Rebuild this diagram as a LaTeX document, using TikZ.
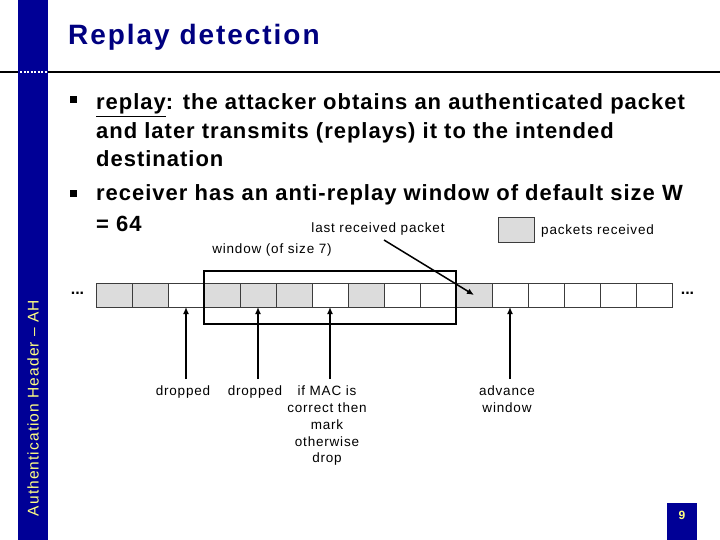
\documentclass[tikz,border=0pt]{standalone}
\usepackage{fontspec}
\setmainfont{Liberation Sans}
\usetikzlibrary{arrows.meta}
\definecolor{barblue}{RGB}{0,0,150}
\definecolor{titleblue}{RGB}{0,0,128}
\definecolor{paleyellow}{RGB}{255,255,130}
\definecolor{cellgray}{RGB}{220,220,220}
\definecolor{cellline}{RGB}{60,60,60}
\newcommand{\smallfnt}{\fontsize{13.5}{16.7}\selectfont\addfontfeatures{LetterSpace=6}}
\begin{document}
\begin{tikzpicture}[x=1pt,y=-1pt,
  cell/.style={draw=cellline, line width=0.8pt, minimum width=36pt, minimum height=24pt, inner sep=0pt, outer sep=0pt, anchor=north west},
  bul/.style={fill=black, minimum size=7pt, inner sep=0pt},
  btext/.style={anchor=base west, inner sep=0pt, font=\fontsize{22}{26}\selectfont\bfseries\addfontfeatures{LetterSpace=4.5}},
  lbl/.style={anchor=north, inner sep=0pt, align=center, font=\smallfnt},
  arr/.style={line width=1.6pt, -{Latex[length=7pt,width=6pt]}},
  winbox/.style={draw=black, line width=1.6pt, minimum width=252pt, minimum height=53pt, inner sep=0pt, outer sep=0pt, anchor=north west}]
\useasboundingbox (0,0) rectangle (720,540);
\fill[white] (0,0) rectangle (720,540);
% left bar
\fill[barblue] (18,0) rectangle (48,540);
\draw[line width=1.5pt] (0,72) -- (18,72);
\draw[line width=1.5pt] (48,72) -- (720,72);
\draw[white, line width=1.5pt, dash pattern=on 2pt off 1.5pt] (20,72) -- (47,72);
% title
\node[anchor=base west, inner sep=0pt, text=titleblue, font=\fontsize{28}{32}\selectfont\bfseries\addfontfeatures{LetterSpace=7}] (title) at (68,45) {Replay detection};
% vertical label
\node[rotate=90, inner sep=0pt, text=paleyellow, font=\fontsize{15.5}{18}\selectfont\addfontfeatures{LetterSpace=7}] (side) at (33,408) {Authentication Header – AH};
% page number
\node[fill=barblue, minimum width=30pt, minimum height=37pt, inner sep=0pt, anchor=north west] (pg) at (667,503) {};
\node[text=paleyellow, inner sep=0pt, font=\fontsize{12}{14}\selectfont\bfseries] (pgn) at (682,515) {9};
% bullets
\node[bul] (b1) at (73,100) {};
\node[btext] (t1) at (96,110) {\underline{replay}: the attacker obtains an authenticated packet};
\node[btext] (t2) at (96,138.5) {and later transmits (replays) it to the intended};
\node[btext] (t3) at (96,167) {destination};
\node[bul] (b2) at (73,193.5) {};
\node[btext] (t4) at (96,201) {receiver has an anti-replay window of default size W};
\node[btext] (t5) at (96,231.5) {= 64};
% legend
\node[draw=cellline, fill=cellgray, line width=0.8pt, minimum width=36pt, minimum height=24pt, inner sep=0pt, anchor=north west] (leg) at (498,217.5) {};
\node[anchor=base west, inner sep=0pt, font=\smallfnt] (legt) at (541,235) {packets received};
\node[anchor=base, inner sep=0pt, font=\smallfnt] (lrt) at (378,233) {last received packet};
\node[anchor=base, inner sep=0pt, font=\smallfnt] (wint) at (272,254) {window (of size 7)};
% cells
\foreach \i/\f in {1/cellgray,2/cellgray,3/white,4/cellgray,5/cellgray,6/cellgray,7/white,8/cellgray,9/white,10/white,11/cellgray,12/white,13/white,14/white,15/white,16/white}
  \node[cell, fill=\f] (c\i) at ({96+36*(\i-1)},283) {};
% dots
\node[inner sep=0pt, font=\fontsize{16}{18}\selectfont\bfseries] (dl) at (77.5,293) {...};
\node[inner sep=0pt, font=\fontsize{16}{18}\selectfont\bfseries] (dr) at (687.5,293) {...};
% window
\node[winbox] (win) at (204,271) {};
% last received arrow
\coordinate (lr) at (384,240);
\draw[line width=1.5pt, -{Latex[length=7pt,width=6pt]}] (lr) -- (c11.center);
% up arrows
\coordinate (a1) at (186,379);
\coordinate (a2) at (258,379);
\coordinate (a3) at (330,379);
\coordinate (a4) at (510,379);
\draw[arr] (a1) -- (c3.south);
\draw[arr] (a2) -- (c5.south);
\draw[arr] (a3) -- (c7.south);
\draw[arr] (a4) -- (c12.south);
% labels
\node[lbl] (l1) at (183,386) {dropped};
\node[lbl] (l2) at (255,386) {dropped};
\node[lbl] (l3) at (327,386) {if MAC is\\correct then\\mark\\otherwise\\drop};
\node[lbl] (l4) at (507,386) {advance\\window};
\end{tikzpicture}
\end{document}
